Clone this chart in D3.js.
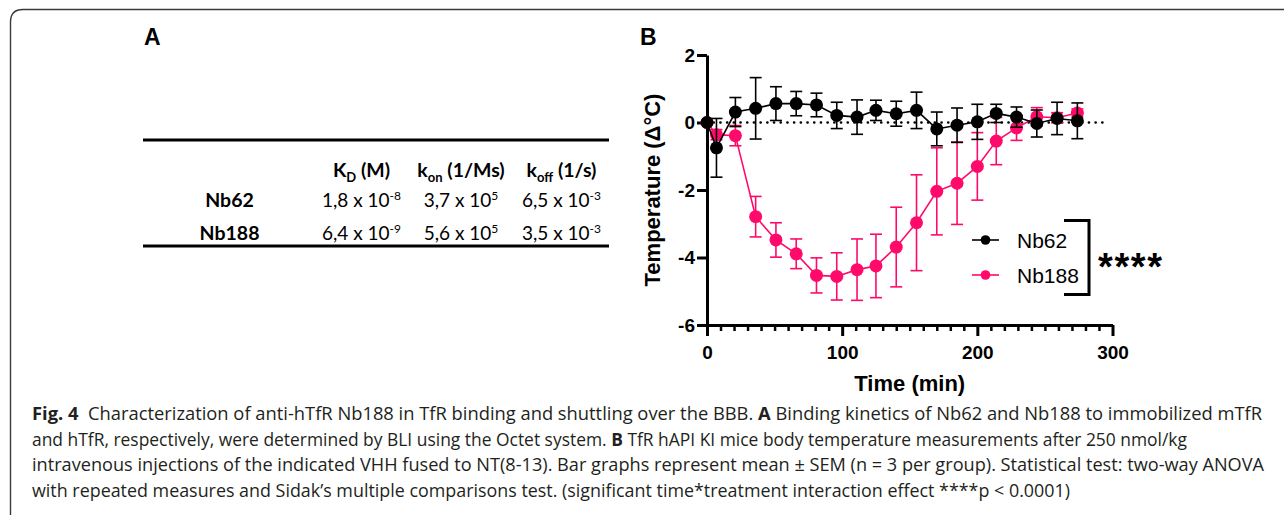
<!DOCTYPE html>
<html>
<head>
<meta charset="utf-8">
<script src="https://cdn.jsdelivr.net/npm/d3@7"></script>
<style>
  body { margin: 0; background: #fff; }
  svg { display: block; }
</style>
</head>
<body>
<div id="container"></div>
<script>
// ---- data ----
var times = [0, 7, 21, 36, 51, 66, 81, 96, 111, 125, 140, 155, 170, 185, 200, 214, 229, 244, 259, 274];
var nb62Mean = [0, -0.75, 0.31, 0.42, 0.56, 0.56, 0.52, 0.21, 0.16, 0.36, 0.26, 0.36, -0.19, -0.08, 0.02, 0.27, 0.16, -0.03, 0.12, 0.05];
var nb62Sem = [0, 0.87, 0.43, 0.91, 0.5, 0.36, 0.35, 0.39, 0.51, 0.3, 0.37, 0.54, 0.5, 0.51, 0.52, 0.27, 0.3, 0.4, 0.48, 0.53];
var nb188Mean = [0, -0.36, -0.39, -2.79, -3.48, -3.89, -4.53, -4.56, -4.36, -4.25, -3.69, -2.97, -2.04, -1.8, -1.3, -0.55, -0.16, 0.17, 0.14, 0.28];
var nb188Sem = [0, 0.15, 0.3, 0.6, 0.51, 0.44, 0.52, 0.7, 0.91, 0.94, 1.18, 1.42, 1.29, 1.22, 1.0, 0.7, 0.37, 0.27, 0.15, 0.12];
var seriesNames = ["Nb62", "Nb188"];
var seriesColors = ["#000000", "#ff0a6a"];
var xTicks = [0, 100, 200, 300];
var yTicks = [2, 0, -2, -4, -6];

// table (panel A)
var tableRows = ["Nb62", "Nb188"];
var tableHead = [["K", "D", " (M)"], ["k", "on", " (1/Ms)"], ["k", "off", " (1/s)"]];
var tableVals = [
  [["1,8 x 10", "-8"], ["3,7 x 10", "5"], ["6,5 x 10", "-3"]],
  [["6,4 x 10", "-9"], ["5,6 x 10", "5"], ["3,5 x 10", "-3"]]
];

// caption runs: [text, bold, spaces before]
var captionLines = [
  [["Fig. 4", true, 0], ["Characterization of anti-hTfR Nb188 in TfR binding and shuttling over the BBB.", false, 2], ["A", true, 1], ["Binding kinetics of Nb62 and Nb188 to immobilized mTfR", false, 1]],
  [["and hTfR, respectively, were determined by BLI using the Octet system.", false, 0], ["B", true, 1], ["TfR hAPI KI mice body temperature measurements after 250 nmol/kg", false, 1]],
  [["intravenous injections of the indicated VHH fused to NT(8-13). Bar graphs represent mean ± SEM (n = 3 per group). Statistical test: two-way ANOVA", false, 0]],
  [["with repeated measures and Sidak’s multiple comparisons test. (significant time*treatment interaction effect ****p < 0.0001)", false, 0]]
];
var captionEnds = [1262, 1187, 1264, 1070];

var width = 1284, height = 515;
var svg = d3.select("#container").append("svg")
  .attr("width", width).attr("height", height)
  .attr("viewBox", [0, 0, width, height]);

// frame
svg.append("path")
  .attr("d", "M10.5,515 L10.5,22 Q10.5,9.5 23,9.5 L1284,9.5")
  .attr("fill", "none").attr("stroke", "#3a3a3a").attr("stroke-width", 1.4);

var chartFont = "'Liberation Sans', Arial, sans-serif";
var tableFont = "Lato, 'Open Sans', sans-serif";

//------------ PANEL A ------------
svg.append("text").attr("x", 144).attr("y", 45)
  .style("font-family", chartFont).style("font-weight", "bold").style("font-size", "23px")
  .text("A");

svg.append("line").attr("x1", 143).attr("x2", 609).attr("y1", 140).attr("y2", 140)
  .attr("stroke", "#000").attr("stroke-width", 3);
svg.append("line").attr("x1", 143).attr("x2", 609).attr("y1", 246).attr("y2", 246)
  .attr("stroke", "#000").attr("stroke-width", 3);

var colX = [361.5, 461, 561.5];
var rowLabelX = 229.5;
var headY = 177, rowY = [207, 240];

tableHead.forEach(function (h, i) {
  var t = svg.append("text").attr("x", colX[i]).attr("y", headY)
    .attr("text-anchor", "middle")
    .style("font-family", tableFont).style("font-weight", "bold").style("font-size", "19.5px");
  t.append("tspan").text(h[0]);
  t.append("tspan").attr("dy", 5).style("font-size", "13px").text(h[1]);
  t.append("tspan").attr("dy", -5).text(h[2]);
});
tableRows.forEach(function (r, j) {
  svg.append("text").attr("x", rowLabelX).attr("y", rowY[j])
    .attr("text-anchor", "middle")
    .style("font-family", tableFont).style("font-weight", "bold").style("font-size", "19.5px")
    .text(r);
  tableVals[j].forEach(function (v, i) {
    var t = svg.append("text").attr("x", colX[i]).attr("y", rowY[j])
      .attr("text-anchor", "middle")
      .style("font-family", tableFont).style("font-size", "19px");
    t.append("tspan").text(v[0]);
    t.append("tspan").attr("dy", -7).style("font-size", "12px").text(v[1]);
  });
});

//------------ PANEL B ------------
svg.append("text").attr("x", 640).attr("y", 45)
  .style("font-family", chartFont).style("font-weight", "bold").style("font-size", "23px")
  .text("B");

var xScale = d3.scaleLinear().domain([0, 300]).range([707, 1112.5]);
var yScale = d3.scaleLinear().domain([-6, 2]).range([325, 55]);

var gAxes = svg.append("g");
var gX = gAxes.append("g").attr("class", "axis x-axis")
  .attr("transform", "translate(0," + yScale(-6) + ")")
  .call(d3.axisBottom(xScale).tickValues(xTicks).tickSize(11).tickSizeOuter(0));
var gXMinor = gAxes.append("g").attr("class", "axis x-minor")
  .attr("transform", "translate(0," + yScale(-6) + ")")
  .call(d3.axisBottom(xScale).tickValues(d3.range(0, 301, 10).filter(function (d) { return d % 100 !== 0; }))
    .tickSize(6).tickSizeOuter(0).tickFormat(""));
var gY = gAxes.append("g").attr("class", "axis y-axis")
  .attr("transform", "translate(" + xScale(0) + ",0)")
  .call(d3.axisLeft(yScale).tickValues(yTicks).tickSize(10).tickPadding(2).tickSizeOuter(0)
    .tickFormat(function (d) { return String(d); }));

gAxes.selectAll("path.domain").attr("stroke", "#000").attr("stroke-width", 3);
gAxes.selectAll(".tick line").attr("stroke", "#000").attr("stroke-width", 3);
gXMinor.selectAll(".tick line").attr("stroke-width", 2.5);
gXMinor.select("path.domain").remove();
gAxes.selectAll(".tick text")
  .style("font-family", chartFont).style("font-weight", "bold").style("font-size", "19px").attr("fill", "#000");
gX.selectAll(".tick text").attr("y", 34).attr("dy", 0);

svg.append("text")
  .attr("x", xScale(150)).attr("y", 391)
  .attr("text-anchor", "middle")
  .style("font-family", chartFont).style("font-weight", "bold").style("font-size", "22px")
  .text("Time (min)");
svg.append("text")
  .attr("transform", "translate(660," + yScale(-2) + ") rotate(-90)")
  .attr("text-anchor", "middle")
  .style("font-family", chartFont).style("font-weight", "bold").style("font-size", "22px")
  .text("Temperature (Δ°C)");

// dotted zero line
svg.append("line")
  .attr("x1", xScale(0)).attr("x2", xScale(297))
  .attr("y1", yScale(0)).attr("y2", yScale(0))
  .attr("stroke", "#000").attr("stroke-width", 2.6)
  .attr("stroke-linecap", "round").attr("stroke-dasharray", "0.1,6.6");

function drawSeries(means, sems, color) {
  var data = times.map(function (t, i) { return { t: t, m: means[i], s: sems[i] }; });
  var g = svg.append("g");
  var line = d3.line().x(function (d) { return xScale(d.t); }).y(function (d) { return yScale(d.m); });
  var eb = g.selectAll(".err").data(data.filter(function (d) { return d.s > 0; })).enter().append("g")
    .attr("stroke", color).attr("stroke-width", 1.6).attr("fill", "none");
  eb.append("line")
    .attr("x1", function (d) { return xScale(d.t); }).attr("x2", function (d) { return xScale(d.t); })
    .attr("y1", function (d) { return yScale(d.m + d.s); }).attr("y2", function (d) { return yScale(d.m - d.s); });
  [1, -1].forEach(function (sg) {
    eb.append("line")
      .attr("x1", function (d) { return xScale(d.t) - 6; }).attr("x2", function (d) { return xScale(d.t) + 6; })
      .attr("y1", function (d) { return yScale(d.m + sg * d.s); }).attr("y2", function (d) { return yScale(d.m + sg * d.s); });
  });
  g.append("path").datum(data).attr("d", line)
    .attr("fill", "none").attr("stroke", color).attr("stroke-width", 1.6);
  g.selectAll("circle").data(data).enter().append("circle")
    .attr("cx", function (d) { return xScale(d.t); })
    .attr("cy", function (d) { return yScale(d.m); })
    .attr("r", 6.5).attr("fill", color);
}
drawSeries(nb188Mean, nb188Sem, seriesColors[1]);
drawSeries(nb62Mean, nb62Sem, seriesColors[0]);

// legend
var legY = [240, 275];
seriesNames.forEach(function (n, i) {
  var g = svg.append("g").attr("transform", "translate(0," + legY[i] + ")");
  g.append("line").attr("x1", 972).attr("x2", 999).attr("stroke", seriesColors[i]).attr("stroke-width", 1.6);
  g.append("circle").attr("cx", 985.5).attr("r", 4.8).attr("fill", seriesColors[i]);
  g.append("text").attr("x", 1017).attr("y", 7.5)
    .style("font-family", chartFont).style("font-size", "21px").text(n);
});
svg.append("path").attr("d", "M1064,220.5 H1089 V294.5 H1064")
  .attr("fill", "none").attr("stroke", "#000").attr("stroke-width", 3);
svg.append("text").attr("x", 1098).attr("y", 280)
  .attr("textLength", 64).attr("lengthAdjust", "spacing")
  .style("font-family", chartFont).style("font-weight", "bold").style("font-size", "38px")
  .text("****");

//------------ CAPTION ------------
// each bold / regular run is its own text, squeezed together so the line fits its width
var capFont = "'Open Sans', 'Noto Sans', sans-serif";
var capSize = 17.5, spaceW = capSize * 0.26;
captionLines.forEach(function (parts, i) {
  var y = 420 + i * 25.5;
  var runs = parts.map(function (p) {
    var t = svg.append("text").attr("y", y)
      .style("font-family", capFont).style("font-size", capSize + "px")
      .style("font-weight", p[1] ? "bold" : "normal")
      .attr("fill", "#231f20")
      .text(p[0]);
    return { node: t, w: t.node().getComputedTextLength(), gap: p[2] * spaceW };
  });
  var total = d3.sum(runs, function (r) { return r.w + r.gap; });
  var k = (captionEnds[i] - 32) / total;
  var x = 32;
  runs.forEach(function (r) {
    x += r.gap * k;
    r.node.attr("x", x).attr("textLength", r.w * k).attr("lengthAdjust", "spacingAndGlyphs");
    x += r.w * k;
  });
});
</script>
</body>
</html>
